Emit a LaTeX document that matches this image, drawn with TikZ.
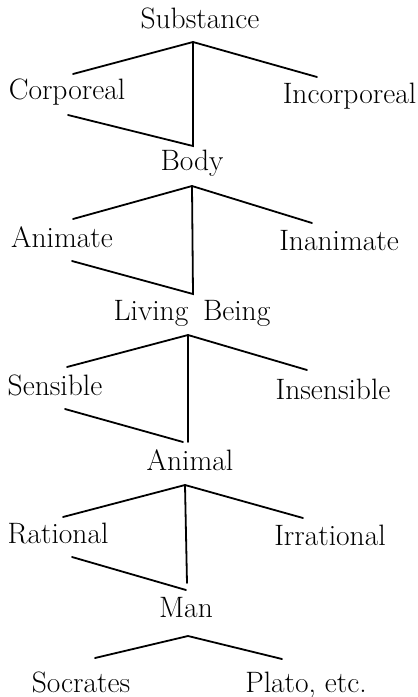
\documentclass[tikz,border=0pt]{standalone}
\begin{document}
\begin{tikzpicture}[x=1pt,y=-1pt,
  lbl/.style={inner sep=0pt, anchor=base, font=\fontsize{29.5}{32}\selectfont},
  br/.style={line width=1.8pt, line cap=round, line join=miter}]
\useasboundingbox (0,0) rectangle (418,697);
% labels
\node[lbl] (substance) at (200,28) {Substance};
\node[lbl] (corporeal) at (67,99) {Corporeal};
\node[lbl] (incorporeal) at (349.5,103) {Incorporeal};
\node[lbl] (body) at (192,170) {Body};
\node[lbl] (animate) at (62,247) {Animate};
\node[lbl] (inanimate) at (339,250) {Inanimate};
\node[lbl] (living) at (192,320) {Living\enspace Being};
\node[lbl] (sensible) at (55,395) {Sensible};
\node[lbl] (insensible) at (333,399) {Insensible};
\node[lbl] (animal) at (190,470) {Animal};
\node[lbl] (rational) at (58,543) {Rational};
\node[lbl] (irrational) at (330,545) {Irrational};
\node[lbl] (man) at (186,617) {Man};
\node[lbl] (socrates) at (81,692) {Socrates};
\node[lbl] (plato) at (306,692) {Plato, etc.};
% level 1
\coordinate (t1) at (193,42);
\coordinate (l1) at (73,74);
\coordinate (r1) at (317,77);
\coordinate (b1) at (193,146);
\coordinate (d1) at (68,115);
% level 2
\coordinate (t2) at (192,186);
\coordinate (l2) at (73,219);
\coordinate (r2) at (312,223);
\coordinate (b2) at (193,294);
\coordinate (d2) at (72,261);
% level 3
\coordinate (t3) at (188,335);
\coordinate (l3) at (67,367);
\coordinate (r3) at (307,370);
\coordinate (b3) at (188,442);
\coordinate (d3) at (65,409);
\coordinate (e3) at (183,442);
% level 4
\coordinate (t4) at (185,485);
\coordinate (l4) at (63,517);
\coordinate (r4) at (303,518);
\coordinate (b4) at (187,583);
\coordinate (d4) at (72,557);
\coordinate (e4) at (186,590);
% level 5
\coordinate (t5) at (188,636);
\coordinate (l5) at (95,658);
\coordinate (r5) at (282,659);
% branches
\draw[br] (l1) -- (t1) -- (r1);
\draw[br] (t1) -- (b1) -- (d1);
\draw[br] (l2) -- (t2) -- (r2);
\draw[br] (t2) -- (b2) -- (d2);
\draw[br] (l3) -- (t3) -- (r3);
\draw[br] (t3) -- (b3);
\draw[br] (d3) -- (e3);
\draw[br] (l4) -- (t4) -- (r4);
\draw[br] (t4) -- (b4);
\draw[br] (d4) -- (e4);
\draw[br] (l5) -- (t5) -- (r5);
\end{tikzpicture}
\end{document}
